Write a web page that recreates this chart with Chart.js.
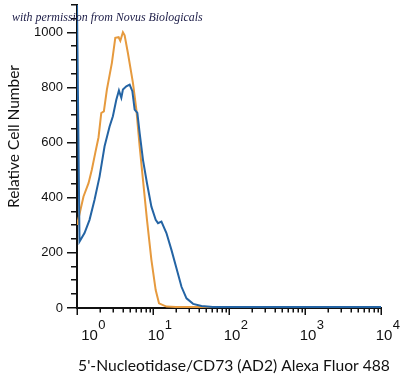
<!DOCTYPE html>
<html><head><meta charset="utf-8">
<script src="https://cdn.jsdelivr.net/npm/chart.js@4/dist/chart.umd.min.js"></script>
<style>html,body{margin:0;padding:0;background:#fff}</style>
</head><body>
<canvas id="c" width="400" height="381"></canvas>
<script>
// ---- data ----
const blueX = [1.0, 1.079, 1.256, 1.462, 1.702, 1.981, 2.306, 2.684, 2.967, 3.29, 3.561, 3.83, 4.02, 4.459, 4.928, 5.349, 5.736, 6.226, 6.676, 7.381, 8.333, 9.526, 10.85, 11.64, 12.91, 15.02, 17.48, 20.36, 23.7, 27.58, 33.71, 43.5, 61.3, 10000];
const blueY = [1100, 241, 272, 320, 393, 477, 587, 659, 696, 756, 790, 763, 793, 805, 811, 787, 720, 708, 635, 538, 453, 368, 320, 308, 314, 272, 211, 144, 77, 35, 15, 7, 4, 4];
const orangeX = [1.0, 1.025, 1.218, 1.418, 1.567, 1.739, 1.921, 2.086, 2.257, 2.473, 2.878, 3.19, 3.528, 3.715, 4.02, 4.233, 4.68, 5.447, 6.039, 6.676, 7.381, 8.333, 9.526, 10.85, 12.0, 15.02, 20, 10000];
const orangeY = [305, 314, 405, 453, 502, 563, 620, 708, 714, 793, 890, 981, 983, 970, 1001, 990, 925, 817, 720, 587, 465, 320, 175, 65, 17, 5, 4, 4];
const yTickValues = [0, 200, 400, 600, 800, 1000];
const xLabelExponents = [0, 1, 2, 3, 4];
const xTitle = "5'-Nucleotidase/CD73 (AD2) Alexa Fluor 488";
const yTitle = "Relative Cell Number";
const watermark = "with permission from Novus Biologicals";

// ---- chart ----
const xTicks = [];
for (let e = 0; e < 4; e++) for (let m = 1; m <= 9; m++) xTicks.push(m * Math.pow(10, e));
xTicks.push(10000);
const yTicks = [];
for (let v = 0; v <= 1100; v += 50) yTicks.push(v);
const isMajorLog = v => Math.abs(Math.log10(v) - Math.round(Math.log10(v))) < 1e-9;
const AX = '#111111';

function fitSize(ctx, text, fontTpl, size, target) {
  ctx.font = fontTpl.replace('{s}', size);
  const w = ctx.measureText(text).width;
  return size * target / w;
}

const axesPlugin = {
  id: 'axes',
  beforeDatasetsDraw(chart) {
    const ctx = chart.ctx, a = chart.chartArea;
    const xs = chart.scales.x, ys = chart.scales.y;
    const L = Math.round(a.left), B = Math.round(a.bottom);
    const T = Math.round(ys.getPixelForValue(1100));
    const R = Math.round(xs.getPixelForValue(10000));
    ctx.save();
    ctx.fillStyle = AX;
    yTicks.forEach(v => {
      const py = Math.round(ys.getPixelForValue(v));
      const len = yTickValues.includes(v) ? 9 : 5;
      ctx.fillRect(L - 1 - len, py - 1, len, 1.5);
    });
    xTicks.forEach(v => {
      const px = Math.round(xs.getPixelForValue(v));
      const len = isMajorLog(v) ? 6 : 3.5;
      ctx.fillRect(px - 0.5, B + 1, 1.5, len);
    });
    ctx.fillRect(L - 1, T - 1, 2, B - T + 2);
    ctx.fillRect(L - 1, B - 1, R - L + 2, 2);
    ctx.restore();
  },
  afterDraw(chart) {
    const ctx = chart.ctx;
    const xs = chart.scales.x;
    ctx.save();
    ctx.fillStyle = AX;
    xLabelExponents.forEach(e => {
      const px = xs.getPixelForValue(Math.pow(10, e));
      const cx = e === 0 ? px + 12.5 : px + 3;
      ctx.font = '15px "Liberation Sans", Arial, sans-serif';
      ctx.textAlign = 'center';
      ctx.textBaseline = 'alphabetic';
      ctx.fillText('10', cx, 340);
      const w = ctx.measureText('10').width;
      ctx.font = '13px "Liberation Sans", Arial, sans-serif';
      ctx.textAlign = 'left';
      ctx.fillText(String(e), cx + w / 2 + 0.5, 328.5);
    });
    let s = fitSize(ctx, xTitle, '{s}px Lato, sans-serif', 15, 312);
    ctx.font = s.toFixed(2) + 'px Lato, sans-serif';
    ctx.textAlign = 'center';
    ctx.textBaseline = 'middle';
    ctx.fillText(xTitle, 234, 366);
    s = fitSize(ctx, yTitle, '{s}px Lato, sans-serif', 15, 143);
    ctx.save();
    ctx.translate(14.5, 136.5);
    ctx.rotate(-Math.PI / 2);
    ctx.font = s.toFixed(2) + 'px Lato, sans-serif';
    ctx.fillText(yTitle, 0, 0);
    ctx.restore();
    s = fitSize(ctx, watermark, 'italic {s}px "Liberation Serif", serif', 12, 191);
    ctx.font = 'italic ' + s.toFixed(2) + 'px "Liberation Serif", serif';
    ctx.fillStyle = '#1b1b46';
    ctx.textAlign = 'left';
    ctx.textBaseline = 'alphabetic';
    ctx.fillText(watermark, 12, 21);
    ctx.restore();
  }
};

new Chart(document.getElementById('c'), {
  type: 'scatter',
  data: {
    datasets: [
      { label: 'Blue', data: blueX.map((x, i) => ({ x, y: blueY[i] })), borderColor: '#2464a4', borderWidth: 2, showLine: true, pointRadius: 0, tension: 0 },
      { label: 'Orange', data: orangeX.map((x, i) => ({ x, y: orangeY[i] })), borderColor: '#e69a3e', borderWidth: 2, showLine: true, pointRadius: 0, tension: 0 }
    ]
  },
  options: {
    responsive: false,
    animation: false,
    layout: { padding: { top: 5, right: 19, left: 0, bottom: 0 } },
    plugins: { legend: { display: false }, tooltip: { enabled: false } },
    scales: {
      x: {
        type: 'logarithmic', min: 1, max: 10000, position: 'bottom',
        border: { display: false },
        grid: { display: false, drawTicks: false },
        ticks: { display: false, autoSkip: false },
        afterBuildTicks: sc => { sc.ticks = xTicks.map(v => ({ value: v, major: isMajorLog(v) })); },
        afterFit: sc => { sc.height = 73; sc.paddingLeft = 0; sc.paddingRight = 0; }
      },
      y: {
        type: 'linear', min: 0, max: 1100, position: 'left',
        border: { display: false },
        grid: { display: false, drawTicks: false },
        ticks: {
          stepSize: 50, autoSkip: false, padding: 14, color: AX,
          font: { family: '"Liberation Sans", Arial, sans-serif', size: 13 },
          callback: v => yTickValues.includes(v) ? String(v) : ''
        },
        afterFit: sc => { sc.width = 77; sc.paddingTop = 0; sc.paddingBottom = 0; }
      }
    }
  },
  plugins: [axesPlugin]
});
</script>
</body></html>
